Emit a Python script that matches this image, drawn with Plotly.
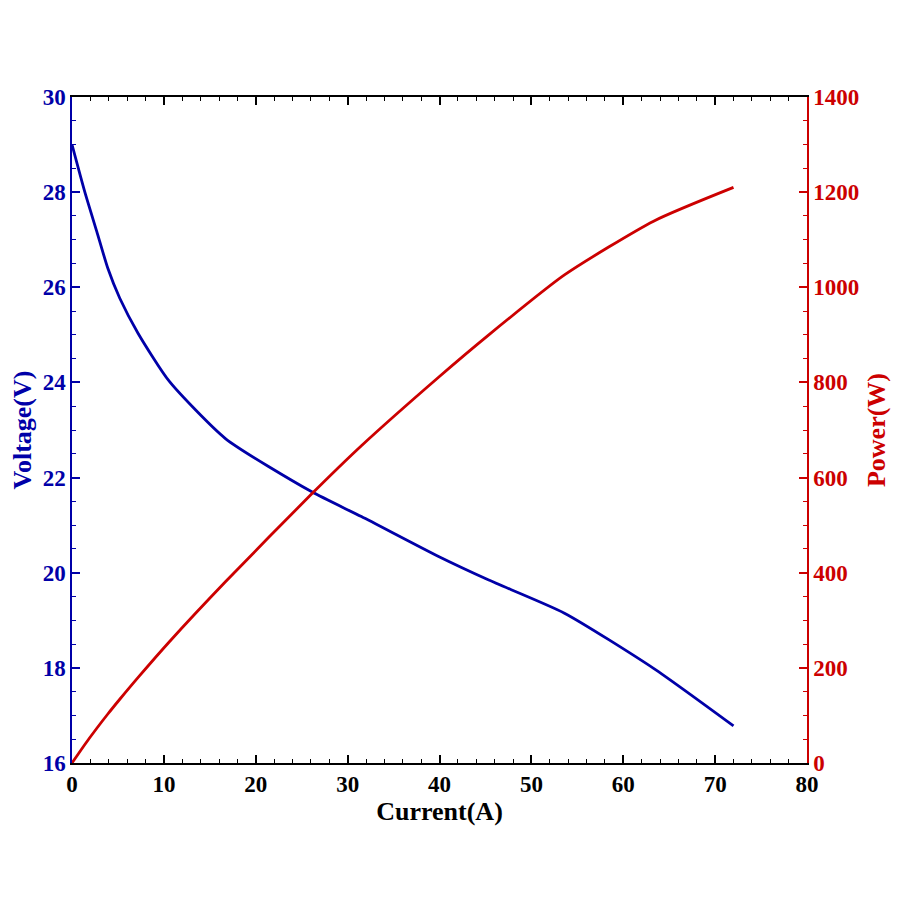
import plotly.graph_objects as go

# values
current = [0, 1.4, 2.7, 3.9, 5.2, 7.2, 10.6, 16.7, 26.1, 31.5, 39.9, 45.3, 53.6, 63.3, 72.0]
voltage = [29.0, 28.0, 27.17, 26.4, 25.77, 25.03, 24.02, 22.82, 21.70, 21.18, 20.34, 19.85, 19.15, 17.99, 16.78]
power = [0, 39, 73, 103, 134, 180, 255, 381, 566, 667, 811, 899, 1026, 1139, 1210]

blue = "#0000A8"
red = "#CC0000"
font_name = "Liberation Serif"
tick_size = 23
title_size = 26

fig = go.Figure()

fig.add_trace(go.Scatter(
    x=current,
    y=voltage,
    mode="lines",
    name="Voltage",
    line=dict(color=blue, width=2.8, shape="spline", smoothing=0.6)
))

fig.add_trace(go.Scatter(
    x=current,
    y=power,
    mode="lines",
    name="Power",
    yaxis="y2",
    line=dict(color=red, width=2.8, shape="spline", smoothing=0.6)
))

fig.update_layout(
    width=900,
    height=900,
    showlegend=False,
    paper_bgcolor="white",
    plot_bgcolor="white",
    # page body adds ~8px offset, so margins are shifted to match
    margin=dict(l=61, r=101, t=89, b=145),
    font=dict(family=font_name, size=tick_size, color="black"),
    xaxis=dict(
        range=[0, 80],
        dtick=10,
        showgrid=False,
        zeroline=False,
        showline=True,
        linecolor="black",
        linewidth=1.5,
        mirror="ticks",
        ticks="inside",
        ticklen=8,
        tickwidth=1.5,
        tickcolor="black",
        tickfont=dict(family=font_name, size=tick_size, color="black", weight="bold"),
        minor=dict(dtick=2, ticks="inside", ticklen=4, tickcolor="black", tickwidth=1),
        title=dict(text="Current(A)", font=dict(family=font_name, size=title_size, color="black", weight="bold"), standoff=2),
    ),
    yaxis=dict(
        range=[16, 30],
        dtick=2,
        showgrid=False,
        zeroline=False,
        showline=True,
        linecolor=blue,
        linewidth=1.5,
        ticks="inside",
        ticklen=8,
        tickwidth=1.5,
        tickcolor=blue,
        tickfont=dict(family=font_name, size=tick_size, color=blue, weight="bold"),
        minor=dict(dtick=0.5, ticks="inside", ticklen=4, tickcolor=blue, tickwidth=1),
        title=dict(text="Voltage(V)", font=dict(family=font_name, size=title_size, color=blue, weight="bold"), standoff=4),
    ),
    yaxis2=dict(
        range=[0, 1400],
        dtick=200,
        overlaying="y",
        side="right",
        showgrid=False,
        zeroline=False,
        showline=True,
        linecolor=red,
        linewidth=1.5,
        ticks="inside",
        ticklen=8,
        tickwidth=1.5,
        tickcolor=red,
        tickfont=dict(family=font_name, size=tick_size, color=red, weight="bold"),
        minor=dict(dtick=50, ticks="inside", ticklen=4, tickcolor=red, tickwidth=1),
        title=dict(text="Power(W)", font=dict(family=font_name, size=title_size, color=red, weight="bold"), standoff=8),
    ),
)

fig.write_html("out.html")
